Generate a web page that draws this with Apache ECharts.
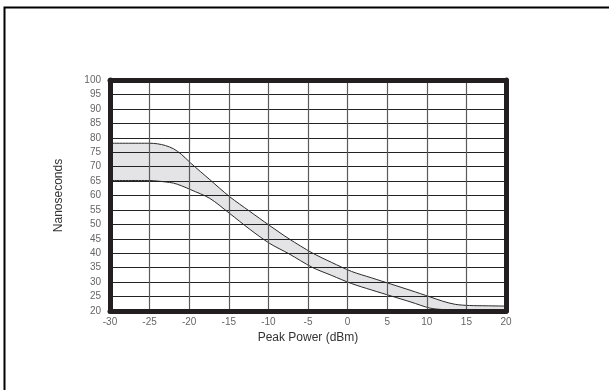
<!DOCTYPE html>
<html>
<head>
<meta charset="utf-8">
<script src="https://cdn.jsdelivr.net/npm/echarts@6/dist/echarts.min.js"></script>
<style>
html,body{margin:0;padding:0;background:#fff;}
#chart{width:609px;height:390px;}
</style>
</head>
<body>
<div id="chart"></div>
<script>
// Peak power (dBm) sample positions
const powerDbm = [-30, -25, -24, -23, -22, -21, -19.8, -17.4, -14.9, -12.4, -9.9, -7.4, -4.45, -2, 0.5, 3, 5.5, 8, 10.4, 12, 13.6, 15.4, 17.5, 20];
// Upper boundary (ns)
const upperNs = [78.1, 78.1, 77.9, 77.3, 76.2, 74.3, 71.2, 65.5, 59.6, 54.6, 49.7, 45.0, 40.1, 36.8, 33.7, 31.5, 29.3, 27.1, 24.9, 23.4, 22.3, 21.9, 21.8, 21.7];
// Lower boundary (ns)
const lowerNs = [65.2, 65.2, 65.0, 64.7, 64.3, 63.4, 62.0, 59.0, 53.8, 48.4, 43.5, 39.8, 35.1, 32.3, 29.5, 27.3, 25.2, 23.1, 21.0, 20.5, 20.3, 20.2, 20.2, 20.2];
const xTicks = { min: -30, max: 20, interval: 5 };
const yTicks = { min: 20, max: 100, interval: 5 };

const pair = (xs, ys) => xs.map((x, i) => [x, ys[i]]);

const chart = echarts.init(document.getElementById('chart'), null, { renderer: 'canvas' });
const font = 'Liberation Sans, Arial, sans-serif';
const frame = { show: true, onZero: false, lineStyle: { color: '#231f20', width: 5 } };

chart.setOption({
  animation: false,
  backgroundColor: '#fff',
  graphic: [{
    type: 'rect',
    shape: { x: 4.5, y: 7.5, width: 800, height: 600 },
    style: { fill: 'none', stroke: '#000', lineWidth: 2 },
    silent: true, z: 100
  }],
  grid: { left: 110, top: 80, width: 396, height: 231, containLabel: false },
  xAxis: [{
    type: 'value', min: xTicks.min, max: xTicks.max, interval: xTicks.interval,
    position: 'bottom',
    name: 'Peak Power (dBm)', nameLocation: 'middle', nameGap: 16,
    nameTextStyle: { fontFamily: font, fontSize: 12, color: '#333' },
    axisLine: frame, axisTick: { show: false },
    axisLabel: { fontFamily: font, fontSize: 10, color: '#666', margin: 6 },
    splitLine: { show: true, lineStyle: { color: '#5a5a5a', width: 1.2 } },
    z: 5
  }, {
    type: 'value', min: xTicks.min, max: xTicks.max, interval: xTicks.interval,
    position: 'top', axisLine: frame, axisTick: { show: false },
    axisLabel: { show: false }, splitLine: { show: false }, z: 5
  }],
  yAxis: [{
    type: 'value', min: yTicks.min, max: yTicks.max, interval: yTicks.interval,
    position: 'left',
    name: 'Nanoseconds', nameLocation: 'middle', nameGap: 45,
    nameTextStyle: { fontFamily: font, fontSize: 12, color: '#333' },
    axisLine: frame, axisTick: { show: false },
    axisLabel: { fontFamily: font, fontSize: 10, color: '#666', margin: 9 },
    splitLine: { show: true, lineStyle: { color: '#222', width: 1.2 } },
    z: 5
  }, {
    type: 'value', min: yTicks.min, max: yTicks.max, interval: yTicks.interval,
    position: 'right', axisLine: frame, axisTick: { show: false },
    axisLabel: { show: false }, splitLine: { show: false }, z: 5
  }],
  series: [
    {
      name: 'upper', type: 'line', smooth: 0.3,
      data: pair(powerDbm, upperNs), showSymbol: false,
      lineStyle: { color: '#2a2a2a', width: 1 },
      areaStyle: { color: '#e4e4e6', opacity: 1, origin: 'start' },
      z: 1
    },
    {
      name: 'lower', type: 'line', smooth: 0.3,
      data: pair(powerDbm, lowerNs), showSymbol: false,
      lineStyle: { color: '#2a2a2a', width: 1 },
      areaStyle: { color: '#ffffff', opacity: 1, origin: 'start' },
      z: 2
    }
  ]
});
</script>
</body>
</html>
